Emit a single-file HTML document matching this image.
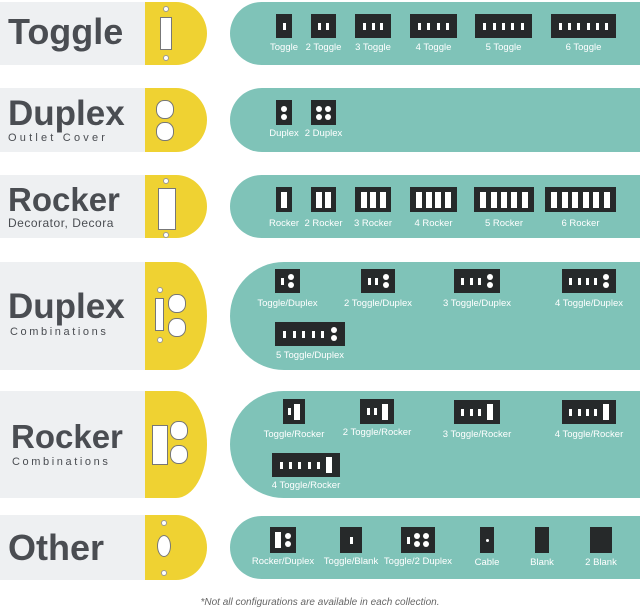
<!DOCTYPE html>
<html><head><meta charset="utf-8">
<style>
*{margin:0;padding:0;box-sizing:border-box}
body{width:640px;height:612px;background:#fff;position:relative;overflow:hidden;font-family:"Liberation Sans",sans-serif}
.g{position:absolute;left:0;width:146px;background:#eef0f2}
.y{position:absolute;left:145px;width:62px;background:#efd232;border-radius:0 50% 50% 0/0 50% 50% 0}
.tl{position:absolute;background:#7fc3b8;left:230px;width:410px}
.t{position:absolute;color:#4a4d52;font-weight:bold;white-space:nowrap}
.s{position:absolute;color:#4a4d52;white-space:nowrap}
.p{position:absolute;background:#26292a;display:flex;justify-content:space-evenly;align-items:center;padding:0 2px}
.l{position:absolute;color:#fff;font-size:9.5px;white-space:nowrap;transform:translateX(-50%)}
.ts{width:3px;height:7px;background:#fff}
.rs{width:6px;height:16px;background:#fff}
.ds{display:flex;flex-direction:column;gap:2px}
.ds i{display:block;width:6px;height:6px;background:#fff;border-radius:50%}
.ic{position:absolute;border:1px solid #777;background:#fff}
.h{position:absolute;width:6px;height:6px;border-radius:50%;background:#fff;border:1px solid #999}
</style></head><body>

<div class="g" style="top:2px;height:63px"></div><div class="y" style="top:2px;height:63px"></div>
<div class="tl" style="top:2px;height:63px;border-radius:32px 0 0 32px"></div>
<div class="g" style="top:88px;height:64px"></div><div class="y" style="top:88px;height:64px"></div>
<div class="tl" style="top:88px;height:64px;border-radius:32px 0 0 32px"></div>
<div class="g" style="top:175px;height:63px"></div><div class="y" style="top:175px;height:63px"></div>
<div class="tl" style="top:175px;height:63px;border-radius:32px 0 0 32px"></div>
<div class="g" style="top:262px;height:108px"></div><div class="y" style="top:262px;height:108px"></div>
<div class="tl" style="top:262px;height:108px;border-radius:54px 0 0 54px"></div>
<div class="g" style="top:391px;height:107px"></div><div class="y" style="top:391px;height:107px"></div>
<div class="tl" style="top:391px;height:107px;border-radius:54px 0 0 54px"></div>
<div class="g" style="top:515px;height:65px"></div><div class="y" style="top:515px;height:65px"></div>
<div class="tl" style="top:516px;height:63px;border-radius:32px 0 0 32px"></div>

<div class="t" style="left:8px;top:11px;font-size:36px">Toggle</div>
<div class="t" style="left:8px;top:94px;font-size:35px">Duplex</div>
<div class="s" style="left:8px;top:132px;font-size:11px;letter-spacing:3.2px">Outlet Cover</div>
<div class="t" style="left:8px;top:181px;font-size:33px">Rocker</div>
<div class="s" style="left:8px;top:216px;font-size:12px;letter-spacing:0.5px">Decorator, Decora</div>
<div class="t" style="left:8px;top:287px;font-size:35px">Duplex</div>
<div class="s" style="left:10px;top:326px;font-size:11px;letter-spacing:2.6px">Combinations</div>
<div class="t" style="left:11px;top:418px;font-size:33px">Rocker</div>
<div class="s" style="left:12px;top:456px;font-size:11px;letter-spacing:2.6px">Combinations</div>
<div class="t" style="left:8px;top:527px;font-size:36px">Other</div>

<div class="ic" style="left:160px;top:17px;width:12px;height:33px"></div>
<div class="h" style="left:163px;top:6px"></div><div class="h" style="left:163px;top:55px"></div>
<div class="ic" style="left:156px;top:100px;width:18px;height:19px;border-radius:45%"></div>
<div class="ic" style="left:156px;top:122px;width:18px;height:19px;border-radius:45%"></div>
<div class="ic" style="left:158px;top:188px;width:18px;height:42px"></div>
<div class="h" style="left:163px;top:178px"></div><div class="h" style="left:163px;top:232px"></div>
<div class="ic" style="left:155px;top:298px;width:9px;height:33px"></div>
<div class="ic" style="left:168px;top:294px;width:18px;height:19px;border-radius:45%"></div>
<div class="ic" style="left:168px;top:318px;width:18px;height:19px;border-radius:45%"></div>
<div class="h" style="left:157px;top:287px"></div><div class="h" style="left:157px;top:337px"></div>
<div class="ic" style="left:152px;top:425px;width:16px;height:40px"></div>
<div class="ic" style="left:170px;top:421px;width:18px;height:19px;border-radius:45%"></div>
<div class="ic" style="left:170px;top:445px;width:18px;height:19px;border-radius:45%"></div>
<div class="h" style="left:127px;top:0;display:none"></div>
<div class="ic" style="left:157px;top:535px;width:14px;height:22px;border-radius:50%"></div>
<div class="h" style="left:161px;top:520px"></div><div class="h" style="left:161px;top:570px"></div>

<div id="plates"></div>
<div class="s" style="left:0;width:640px;text-align:center;top:597px;font-size:10px;font-style:italic;color:#666">*Not all configurations are available in each collection.</div>

<script>
var P=[
[276,14,16,24,"t","Toggle",48],[311,14,25,24,"tt","2 Toggle",48],[355,14,36,24,"ttt","3 Toggle",48],[410,14,47,24,"tttt","4 Toggle",48],[475,14,57,24,"ttttt","5 Toggle",48],[551,14,65,24,"tttttt","6 Toggle",48],
[276,100,16,25,"d","Duplex",134],[311,100,25,25,"dd","2 Duplex",134],
[276,187,16,25,"r","Rocker",224],[311,187,25,25,"rr","2 Rocker",224],[355,187,36,25,"rrr","3 Rocker",224],[410,187,47,25,"rrrr","4 Rocker",224],[474,187,60,25,"rrrrr","5 Rocker",224],[545,187,71,25,"rrrrrr","6 Rocker",224],
[275,269,25,24,"td","Toggle/Duplex",304],[361,269,34,24,"ttd","2 Toggle/Duplex",304],[454,269,46,24,"tttd","3 Toggle/Duplex",304],[562,269,54,24,"ttttd","4 Toggle/Duplex",304],[275,322,70,24,"tttttd","5 Toggle/Duplex",356],
[283,399,22,25,"tr","Toggle/Rocker",435],[360,399,34,25,"ttr","2 Toggle/Rocker",433],[454,400,46,24,"tttr","3 Toggle/Rocker",435],[562,400,54,24,"ttttr","4 Toggle/Rocker",435],[272,453,68,24,"tttttr","4 Toggle/Rocker",486],
[270,527,26,26,"rd","Rocker/Duplex",562],[340,527,22,26,"t","Toggle/Blank",562],[401,527,34,26,"tdd","Toggle/2 Duplex",562],[480,527,14,26,"c","Cable",563],[535,527,14,26,"","Blank",563],[590,527,22,26,"","2 Blank",563]];
var h="";
P.forEach(function(p){
 var inner="";
 for(var i=0;i<p[4].length;i++){var c=p[4][i];
  if(c=="t")inner+='<span class="ts"></span>';
  else if(c=="r")inner+='<span class="rs"></span>';
  else if(c=="d")inner+='<span class="ds"><i></i><i></i></span>';
  else if(c=="c")inner+='<span style="width:3px;height:3px;background:#fff;border-radius:50%"></span>';}
 h+='<div class="p" style="left:'+p[0]+'px;top:'+p[1]+'px;width:'+p[2]+'px;height:'+p[3]+'px">'+inner+'</div>';
 h+='<div class="l" style="left:'+(p[0]+p[2]/2)+'px;top:'+(p[6]-6)+'px">'+p[5]+'</div>';
});
document.getElementById("plates").innerHTML=h;
</script>
</body></html>
